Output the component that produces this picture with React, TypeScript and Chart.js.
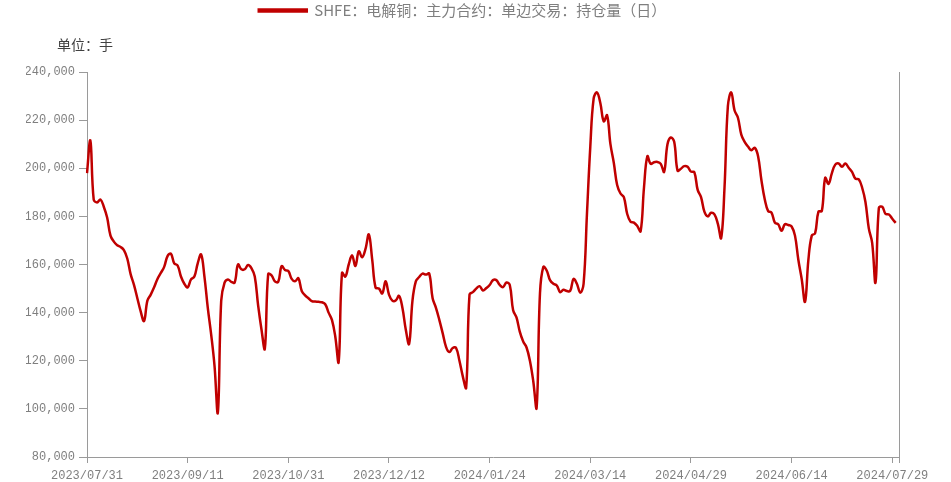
import React, { useEffect, useRef } from 'react';
import { Chart, registerables } from 'chart.js';

Chart.register(...registerables);

// ---- Text ----
const SERIES_NAME = 'SHFE：电解铜：主力合约：单边交易：持仓量（日）';
const UNIT_TEXT = '单位：手';

// ---- Trading days per month (categories) ----
const days2023_07 = [31];
const days2023_08 = [1, 2, 3, 4, 7, 8, 9, 10, 11, 14, 15, 16, 17, 18, 21, 22, 23, 24, 25, 28, 29, 30, 31];
const days2023_09 = [1, 4, 5, 6, 7, 8, 11, 12, 13, 14, 15, 18, 19, 20, 21, 22, 25, 26, 27, 28];
const days2023_10 = [9, 10, 11, 12, 13, 16, 17, 18, 19, 20, 23, 24, 25, 26, 27, 30, 31];
const days2023_11 = [1, 2, 3, 6, 7, 8, 9, 10, 13, 14, 15, 16, 17, 20, 21, 22, 23, 24, 27, 28, 29, 30];
const days2023_12 = [1, 4, 5, 6, 7, 8, 11, 12, 13, 14, 15, 18, 19, 20, 21, 22, 25, 26, 27, 28, 29];
const days2024_01 = [2, 3, 4, 5, 8, 9, 10, 11, 12, 15, 16, 17, 18, 19, 22, 23, 24, 25, 26, 29, 30, 31];
const days2024_02 = [1, 2, 5, 6, 7, 8, 19, 20, 21, 22, 23, 26, 27, 28, 29];
const days2024_03 = [1, 4, 5, 6, 7, 8, 11, 12, 13, 14, 15, 18, 19, 20, 21, 22, 25, 26, 27, 28, 29];
const days2024_04 = [1, 2, 3, 8, 9, 10, 11, 12, 15, 16, 17, 18, 19, 22, 23, 24, 25, 26, 29, 30];
const days2024_05 = [6, 7, 8, 9, 10, 13, 14, 15, 16, 17, 20, 21, 22, 23, 24, 27, 28, 29, 30, 31];
const days2024_06 = [3, 4, 5, 6, 7, 11, 12, 13, 14, 17, 18, 19, 20, 21, 24, 25, 26, 27];
const days2024_07 = [1, 2, 3, 4, 5, 8, 9, 10, 11, 12, 15, 16, 17, 18, 19, 22, 23, 24, 25, 26, 29, 30, 31];

// ---- Open interest (lots) per month ----
const oi2023_07 = [198000];
const oi2023_08 = [211500, 187000, 185800, 187000, 184000, 179500, 172000, 169500, 168000, 167300, 166000, 162500, 156000, 151500, 146000, 140500, 136500, 145000, 147500, 150500, 154000, 156500, 159000];
const oi2023_09 = [163500, 164500, 160500, 159600, 155000, 152000, 150500, 153800, 155000, 160500, 164200, 155000, 142000, 131000, 118000, 98500, 145000, 152500, 153800, 152800];
const oi2023_10 = [152500, 160000, 158000, 158000, 159800, 158500, 155000, 143000, 133000, 125000, 156000, 155500, 153000, 152800, 159300, 157700, 157300];
const oi2023_11 = [154000, 153000, 154300, 149000, 147200, 146000, 144800, 144600, 144500, 144300, 143500, 140000, 137000, 130000, 119500, 156500, 155000, 160000, 163800, 159400, 165500, 163000];
const oi2023_12 = [166500, 172500, 162000, 150400, 150000, 148000, 153000, 147500, 145000, 145000, 147000, 142000, 133000, 127000, 145000, 153000, 154800, 156200, 155800, 156200, 146000];
const oi2024_01 = [142000, 137000, 131500, 125800, 123600, 125300, 125300, 120000, 113500, 108800, 147500, 148500, 150000, 151000, 149200, 150200, 151500, 153500, 153500, 151500, 150600, 152500];
const oi2024_02 = [151500, 141000, 138000, 132000, 128000, 125500, 120000, 111500, 100500, 148000, 159000, 157500, 153500, 152000, 151300];
const oi2024_03 = [148500, 149500, 149000, 149000, 154000, 152000, 148300, 152000, 181000, 209000, 229000, 231500, 227000, 219500, 222000, 210000, 202300, 193000, 189500, 188000, 181000];
const oi2024_04 = [177800, 177400, 176000, 173800, 192000, 205000, 201800, 202500, 202600, 201800, 198500, 210000, 212800, 211000, 199000, 199800, 200900, 200600, 198600, 198400];
const oi2024_05 = [191000, 188000, 182000, 180000, 181500, 180800, 177000, 171000, 192000, 225800, 231500, 224000, 221000, 214000, 211000, 209000, 207500, 208500, 205000, 195000];
const oi2024_06 = [187000, 182200, 181600, 177400, 176700, 174000, 176700, 176400, 175800, 172000, 162000, 154000, 144500, 162000, 172000, 173000, 182000, 182200];
const oi2024_07 = [196000, 193500, 198000, 201500, 202000, 200600, 202000, 200200, 198500, 195700, 195400, 192000, 186000, 175000, 169000, 152500, 183500, 184000, 181000, 180800, 179000, 177300];

// ---- Axis ----
const Y_MIN = 80000;
const Y_MAX = 240000;
const Y_STEP = 20000;
const X_LABEL_EVERY = 30;

const monthBlocks: [string, number[], number[]][] = [
  ['2023/07', days2023_07, oi2023_07],
  ['2023/08', days2023_08, oi2023_08],
  ['2023/09', days2023_09, oi2023_09],
  ['2023/10', days2023_10, oi2023_10],
  ['2023/11', days2023_11, oi2023_11],
  ['2023/12', days2023_12, oi2023_12],
  ['2024/01', days2024_01, oi2024_01],
  ['2024/02', days2024_02, oi2024_02],
  ['2024/03', days2024_03, oi2024_03],
  ['2024/04', days2024_04, oi2024_04],
  ['2024/05', days2024_05, oi2024_05],
  ['2024/06', days2024_06, oi2024_06],
  ['2024/07', days2024_07, oi2024_07],
];

const pad2 = (d: number) => (d < 10 ? '0' + d : String(d));
const labels: string[] = [];
const values: number[] = [];
monthBlocks.forEach(([ym, days, vals]) => {
  days.forEach((d) => labels.push(`${ym}/${pad2(d)}`));
  vals.forEach((v) => values.push(v));
});

const AXIS_COLOR = '#9a9a9a';
const LABEL_COLOR = '#7f7f7f';
const LINE_COLOR = '#c00000';
const MONO = "'Liberation Mono', 'DejaVu Sans Mono', monospace";
const CJK = "'Noto Sans CJK SC', 'Noto Sans', sans-serif";

const unitPlugin = {
  id: 'unitLabel',
  afterDraw(chart: any) {
    const { ctx, chartArea } = chart;
    ctx.save();
    ctx.font = `14px ${CJK}`;
    ctx.fillStyle = '#404040';
    ctx.textAlign = 'left';
    ctx.textBaseline = 'middle';
    ctx.fillText(UNIT_TEXT, chartArea.left - 30, chartArea.top - 27);
    ctx.restore();
  },
};

export default function App() {
  const canvasRef = useRef<HTMLCanvasElement | null>(null);

  useEffect(() => {
    if (!canvasRef.current) return;
    const lastIndex = labels.length - 1;
    const chart = new Chart(canvasRef.current, {
      type: 'line',
      data: {
        labels,
        datasets: [
          {
            label: SERIES_NAME,
            data: values,
            borderColor: LINE_COLOR,
            backgroundColor: LINE_COLOR,
            borderWidth: 2.5,
            pointRadius: 0,
            pointHoverRadius: 0,
            tension: 0.4,
            fill: false,
          },
        ],
      },
      options: {
        animation: false,
        responsive: false,
        devicePixelRatio: 1,
        events: [],
        layout: { padding: { left: 26, right: 52, top: 0, bottom: 0 } },
        plugins: {
          legend: {
            display: true,
            position: 'top',
            align: 'center',
            labels: {
              boxWidth: 48,
              boxHeight: 2,
              padding: 3,
              color: LABEL_COLOR,
              font: { family: CJK, size: 15 },
            },
          },
          title: {
            display: true,
            text: '',
            weight: 500,
            padding: { top: 0, bottom: 0 },
            font: { size: 44, lineHeight: 1 },
          },
          tooltip: { enabled: false },
        },
        scales: {
          x: {
            type: 'category',
            offset: false,
            grid: {
              display: true,
              drawOnChartArea: false,
              drawTicks: true,
              tickLength: 6,
              color: (c: any) =>
                c.index % X_LABEL_EVERY === 0 || c.index === lastIndex ? AXIS_COLOR : 'rgba(0,0,0,0)',
            },
            border: { display: true, color: AXIS_COLOR, width: 1 },
            ticks: {
              autoSkip: false,
              maxRotation: 0,
              minRotation: 0,
              padding: 6,
              color: LABEL_COLOR,
              font: { family: MONO, size: 12 },
              callback: (_v: any, i: number) => (i % X_LABEL_EVERY === 0 ? labels[i] : ''),
            },
            afterFit: (s: any) => {
              s.height = 25;
            },
          },
          y: {
            type: 'linear',
            position: 'left',
            min: Y_MIN,
            max: Y_MAX,
            grid: { drawOnChartArea: false, drawTicks: true, tickLength: 8, color: AXIS_COLOR },
            border: { display: true, color: AXIS_COLOR, width: 1 },
            ticks: {
              stepSize: Y_STEP,
              padding: 4,
              color: LABEL_COLOR,
              font: { family: MONO, size: 12 },
              callback: (v: any) => Number(v).toLocaleString('en-US'),
            },
            afterFit: (s: any) => {
              s.width = 61;
            },
          },
          y2: {
            type: 'linear',
            position: 'right',
            min: Y_MIN,
            max: Y_MAX,
            grid: { display: false },
            border: { display: true, color: AXIS_COLOR, width: 1 },
            ticks: { display: false },
            afterFit: (s: any) => {
              s.width = 0;
            },
          },
        },
      },
      plugins: [unitPlugin],
    } as any);
    return () => chart.destroy();
  }, []);

  return (
    <div style={{ position: 'absolute', left: 0, top: 0, width: 951, height: 482, background: '#fff' }}>
      <canvas ref={canvasRef} width={951} height={482} style={{ display: 'block', width: 951, height: 482 }} />
    </div>
  );
}
